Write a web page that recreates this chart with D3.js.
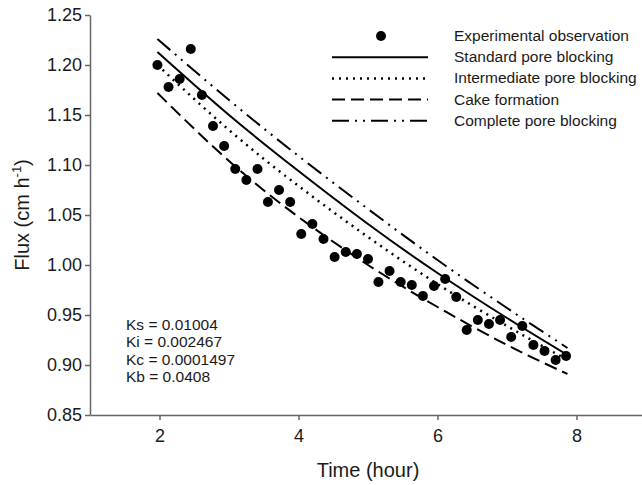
<!DOCTYPE html>
<html>
<head>
<meta charset="utf-8">
<script src="https://cdn.jsdelivr.net/npm/d3@7"></script>
<style>
  body { margin: 0; background: #fff; }
  svg text { font-family: "Liberation Sans", Arial, sans-serif; fill: #1a1a1a; }
</style>
</head>
<body>
<div id="chart"></div>
<script>
// observed flux (cm/h) against time (h)
const obsTime = [1.97, 2.13, 2.29, 2.45, 2.61, 2.77, 2.93, 3.09, 3.25, 3.41,
                 3.56, 3.72, 3.88, 4.04, 4.20, 4.36, 4.52, 4.68, 4.84, 5.00,
                 5.15, 5.31, 5.47, 5.63, 5.79, 5.95, 6.11, 6.27, 6.42, 6.58,
                 6.74, 6.90, 7.06, 7.22, 7.38, 7.54, 7.70, 7.85];
const obsFlux = [1.200, 1.178, 1.186, 1.216, 1.170, 1.139, 1.119, 1.096, 1.085, 1.096,
                 1.063, 1.075, 1.063, 1.031, 1.041, 1.026, 1.008, 1.013, 1.011, 1.006,
                 0.983, 0.994, 0.983, 0.980, 0.969, 0.979, 0.986, 0.968, 0.935, 0.945,
                 0.941, 0.945, 0.928, 0.939, 0.920, 0.914, 0.905, 0.909];

const fitTime = [1.97, 3, 4, 5, 6, 7, 7.87];
const standardFit = [1.213, 1.150, 1.094, 1.041, 0.992, 0.947, 0.910];
const intermediateFit = [1.200, 1.135, 1.079, 1.028, 0.981, 0.939, 0.905];
const cakeFit = [1.172, 1.104, 1.048, 1.000, 0.958, 0.920, 0.891];
const completeFit = [1.226, 1.165, 1.109, 1.056, 1.005, 0.957, 0.917];

const seriesNames = ["Experimental observation", "Standard pore blocking",
                     "Intermediate pore blocking", "Cake formation", "Complete pore blocking"];
const constants = ["Ks = 0.01004", "Ki = 0.002467", "Kc = 0.0001497", "Kb = 0.0408"];
const yTicks = [0.85, 0.90, 0.95, 1.00, 1.05, 1.10, 1.15, 1.20, 1.25];
const xTicks = [2, 4, 6, 8];

let width = 642, height = 485;

let svg = d3.select("#chart").append("svg")
    .attr("width", width)
    .attr("height", height);

let x = d3.scaleLinear().domain([1, 9]).range([90, 646]);
let y = d3.scaleLinear().domain([0.85, 1.25]).range([415, 15]);

// axes
let yAxis = svg.append("g")
    .attr("transform", "translate(90,0)")
    .call(d3.axisLeft(y).tickValues(yTicks).tickFormat(d3.format(".2f")).tickSize(5).tickSizeOuter(0).tickPadding(3));
let xAxis = svg.append("g")
    .attr("transform", "translate(0,415)")
    .call(d3.axisBottom(x).tickValues(xTicks).tickSize(5).tickSizeOuter(0).tickPadding(9));

[xAxis, yAxis].forEach(a => {
    a.selectAll("path, line").attr("stroke", "#666").attr("stroke-width", 1.5);
    a.selectAll("text").style("font-size", "18px").attr("fill", "#1a1a1a");
});

// model lines
let styles = [
    {data: standardFit, dash: null},
    {data: intermediateFit, dash: "2,5"},
    {data: cakeFit, dash: "13,6"},
    {data: completeFit, dash: "17,6,2,6,2,6"}
];

let line = d3.line()
    .x((d, i) => x(fitTime[i]))
    .y(d => y(d))
    .curve(d3.curveNatural);

svg.selectAll(".fit")
    .data(styles)
    .join("path")
    .attr("class", "fit")
    .attr("d", d => line(d.data))
    .attr("fill", "none")
    .attr("stroke", "#000")
    .attr("stroke-width", d => d.dash === "2,5" ? 2.5 : 2)
    .attr("stroke-dasharray", d => d.dash);

// observations
svg.selectAll(".obs")
    .data(obsTime)
    .join("circle")
    .attr("class", "obs")
    .attr("cx", d => x(d))
    .attr("cy", (d, i) => y(obsFlux[i]))
    .attr("r", 5)
    .attr("fill", "#000");

// legend
let legend = svg.append("g");
seriesNames.forEach((name, i) => {
    let cy = 36 + i * 21.2;
    if (i === 0) {
        legend.append("circle").attr("cx", 381).attr("cy", cy).attr("r", 5).attr("fill", "#000");
    } else {
        let s = styles[i - 1];
        legend.append("line")
            .attr("x1", 332).attr("x2", 428)
            .attr("y1", cy).attr("y2", cy)
            .attr("stroke", "#000")
            .attr("stroke-width", s.dash === "2,5" ? 2.5 : 2)
            .attr("stroke-dasharray", s.dash);
    }
    legend.append("text")
        .attr("x", 454)
        .attr("y", cy + 5)
        .style("font-size", "15.5px")
        .text(name);
});

// rate constants
svg.selectAll(".kval")
    .data(constants)
    .join("text")
    .attr("class", "kval")
    .attr("x", 126)
    .attr("y", (d, i) => 330 + i * 17.3)
    .style("font-size", "15.5px")
    .text(d => d);

// axis titles
svg.append("text")
    .attr("x", 368)
    .attr("y", 477)
    .attr("text-anchor", "middle")
    .style("font-size", "20px")
    .text("Time (hour)");

let yLabel = svg.append("text")
    .attr("transform", "translate(29,215) rotate(-90)")
    .attr("text-anchor", "middle")
    .style("font-size", "20px");
yLabel.append("tspan").text("Flux (cm h");
yLabel.append("tspan").attr("dy", -8).style("font-size", "13px").text("-1");
yLabel.append("tspan").attr("dy", 8).text(")");
</script>
</body>
</html>
